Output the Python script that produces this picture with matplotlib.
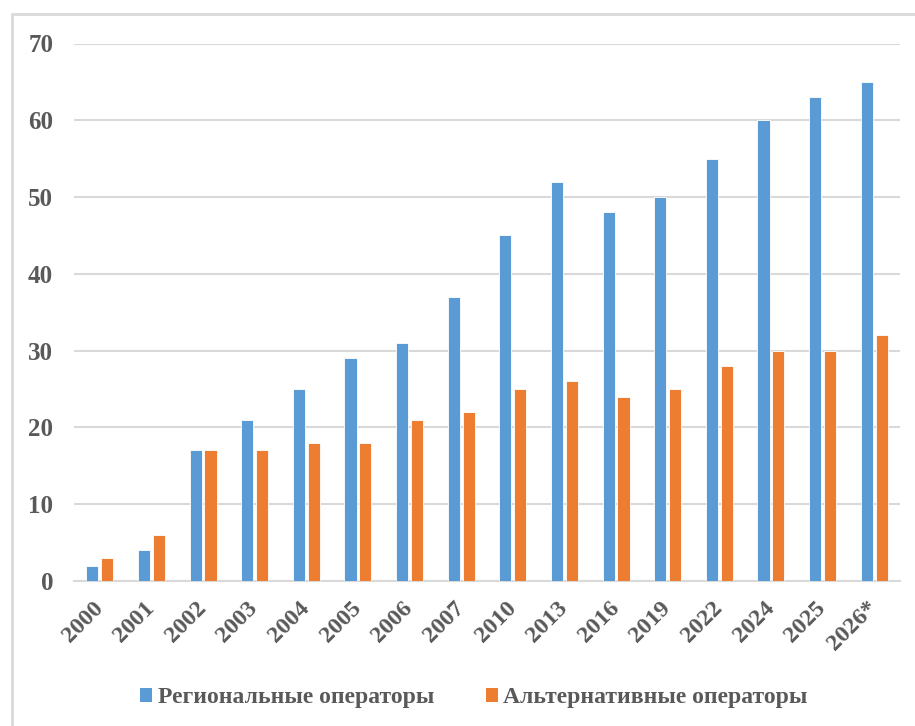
import matplotlib
matplotlib.use("Agg")
import matplotlib.pyplot as plt
import numpy as np
from matplotlib.patches import Rectangle, Patch

categories = ["2000", "2001", "2002", "2003", "2004", "2005", "2006", "2007",
              "2010", "2013", "2016", "2019", "2022", "2024", "2025", "2026*"]
regional = [2, 4, 17, 21, 25, 29, 31, 37, 45, 52, 48, 50, 55, 60, 63, 65]
alternative = [3, 6, 17, 17, 18, 18, 21, 22, 25, 26, 24, 25, 28, 30, 30, 32]
series_names = ["Региональные операторы", "Альтернативные операторы"]
colors = ["#5B9BD5", "#ED7D31"]
text_color = "#595959"
grid_color = "#D9D9D9"

plt.rcParams['font.family'] = ['Liberation Serif', 'DejaVu Serif']
plt.rcParams['font.weight'] = 'bold'

fig = plt.figure(figsize=(9.15, 7.26), dpi=100)
ax = fig.add_axes([74/915, 1-581/726, (900-74)/915, (581-43.5)/726])

x = np.arange(len(categories))
w = 0.235
off = 0.145
ax.bar(x - off, regional, w, color=colors[0], edgecolor="white", linewidth=0.6, zorder=3)
ax.bar(x + off, alternative, w, color=colors[1], edgecolor="white", linewidth=0.6, zorder=3)

ax.set_xlim(-0.5, len(categories) - 0.5)
ax.set_ylim(0, 70)
ax.set_yticks(np.arange(0, 71, 10))
ax.yaxis.grid(True, color=grid_color, linewidth=1.5, zorder=0)
ax.set_axisbelow(True)
for s in ["top", "right", "left"]:
    ax.spines[s].set_visible(False)
ax.spines["bottom"].set_color(grid_color)
ax.spines["bottom"].set_linewidth(1.5)
ax.tick_params(axis="both", length=0, colors=text_color)
ax.tick_params(axis="y", pad=15, labelsize=18)
ax.set_xticks(x)
ax.set_xticklabels(categories, rotation=45, ha="right", va="center",
                   rotation_mode="anchor", fontsize=17.5, color=text_color, fontweight="bold")
ax.tick_params(axis="x", pad=17)
for lbl in ax.get_yticklabels():
    lbl.set_fontweight("bold")
    lbl.set_color(text_color)

handles = [Patch(facecolor=colors[0]), Patch(facecolor=colors[1])]
leg = fig.legend(handles, series_names, loc="center", bbox_to_anchor=(474/915, 1-698/726),
                 ncol=2, frameon=False, fontsize=17, handlelength=0.52, handleheight=0.52,
                 handletextpad=0.22, columnspacing=2.2)
for t in leg.get_texts():
    t.set_color(text_color)
    t.set_fontweight("bold")

fig.patches.append(Rectangle((12/915, -0.1), 1.0, 1 - 14/726 + 0.1,
                             transform=fig.transFigure, fill=False,
                             edgecolor=grid_color, linewidth=2))

fig.savefig("out.png", dpi=100)
